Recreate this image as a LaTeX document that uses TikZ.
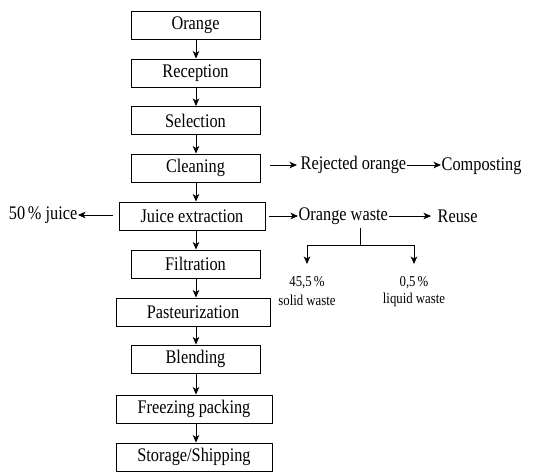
\documentclass[tikz,border=0pt]{standalone}
\usepackage{fontspec}
\setmainfont{Liberation Serif}
\usetikzlibrary{arrows.meta}
% slightly tall lettering
\newcommand{\st}[1]{\scalebox{1}[1.18]{#1}}
\begin{document}
\begin{tikzpicture}[x=1pt,y=-1pt,
  stepbox/.style={draw, line width=1pt, minimum height=28pt, inner sep=0pt,
    font=\fontsize{16.3}{18}\selectfont},
  lbl/.style={inner sep=0.5pt, font=\fontsize{16.3}{18}\selectfont},
  small/.style={inner sep=0pt, font=\fontsize{12.8}{14}\selectfont},
  flow/.style={-{Stealth[length=7.5pt,width=6.5pt,inset=2pt]}, line width=0.75pt},
  tree/.style={line width=0.75pt}]
\useasboundingbox (0,0) rectangle (533,475);

% main process chain
\coordinate (ax) at (196,0);
\node[stepbox, minimum width=129pt] (orange)    at (195.5,25.5) {\st{Orange}};
\node[stepbox, minimum width=129pt] (reception) at (195.5,73)   {\st{Reception}};
\node[stepbox, minimum width=129pt] (selection) at (195.5,120.5){\st{Selection}};
\node[stepbox, minimum width=129pt] (cleaning)  at (195.5,168)  {\st{Cleaning}};
\node[stepbox, minimum width=146pt] (juice)     at (192,216)    {\st{Juice extraction}};
\node[stepbox, minimum width=129pt] (filt)      at (195.5,264)  {\st{Filtration}};
\node[stepbox, minimum width=154pt] (past)      at (193,312)    {\st{Pasteurization}};
\node[stepbox, minimum width=129pt] (blend)     at (195.5,359)  {\st{Blending}};
\node[stepbox, minimum width=156pt] (freeze)    at (194,409)    {\st{Freezing packing}};
\node[stepbox, minimum width=156pt] (storage)   at (194,457)    {\st{Storage/Shipping}};

\foreach \a/\b in {orange/reception, reception/selection, selection/cleaning,
                   cleaning/juice, juice/filt, filt/past, past/blend,
                   blend/freeze, freeze/storage}
  \draw[flow] (ax |- \a.south) -- (ax |- \b.north);

% rejected fruit
\node[lbl, anchor=west] (rej)  at (300,165) {\st{Rejected orange}};
\node[lbl, anchor=west] (comp) at (441,166) {\st{Composting}};
\coordinate (c0) at (270,165);
\coordinate (c1) at (297,165);
\draw[flow] (c0) -- (c1);
\draw[flow] (rej.east) -- (comp.west |- rej.east);

% extraction by-products
\node[lbl, anchor=west] (waste) at (298,216) {\st{Orange waste}};
\node[lbl, anchor=west] (reuse) at (437,216) {\st{Reuse}};
\coordinate (j0) at (269,216);
\coordinate (r0) at (431,216);
\draw[flow] (j0) -- (waste.west |- j0);
\draw[flow] (waste.east) -- (r0);
\node[lbl, anchor=east] (half) at (78,215) {\st{50\,\% juice}};
\draw[flow] (juice.west |- half.east) ++(-6,0) -- (half.east);

% split of the orange waste
\coordinate (split) at (360,245);
\coordinate (sl) at (307,245);
\coordinate (sr) at (414,245);
\coordinate (sl1) at (307,264);
\coordinate (sr1) at (414,264);
\node[small] (solidp) at (307,283) {\st{45,5\,\%}};
\node[small] (solid)  at (307,300) {\st{solid waste}};
\node[small] (liqp)   at (414,283) {\st{0,5\,\%}};
\node[small] (liq)    at (414,300) {\st{liquid waste}};
\draw[tree] (split |- waste.south) ++(0,3) -- (split);
\draw[tree] (sl) -- (sr);
\draw[flow] (sl) -- (sl1);
\draw[flow] (sr) -- (sr1);
\end{tikzpicture}
\end{document}
